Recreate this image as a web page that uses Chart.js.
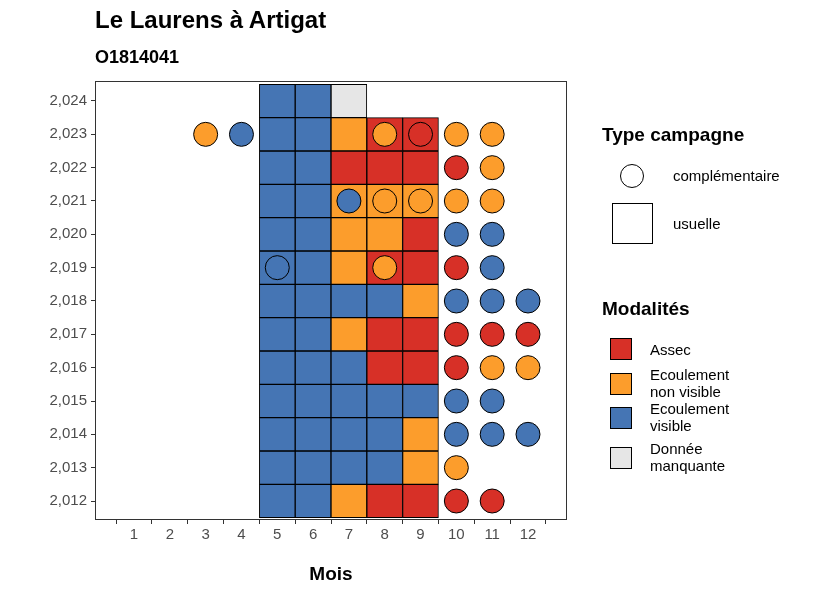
<!DOCTYPE html>
<html>
<head>
<meta charset="utf-8">
<script src="https://cdn.jsdelivr.net/npm/chart.js@4"></script>
<style>
  body { margin: 0; background: #fff; font-family: "Liberation Sans", Arial, sans-serif; }
  #wrap { position: relative; width: 826px; height: 590px; }
  .t { position: absolute; white-space: nowrap; color: #000; }
  .sq { position: absolute; border: 1px solid #000; box-sizing: border-box; }
  .lab { position: absolute; font-size: 15px; line-height: 17px; color: #000; }
</style>
</head>
<body>
<div id="wrap">
  <canvas id="chart" width="826" height="590"></canvas>
  <div class="t" style="left:95px;top:6px;font-size:24px;font-weight:bold;">Le Laurens à Artigat</div>
  <div class="t" style="left:95px;top:47px;font-size:18px;font-weight:bold;">O1814041</div>
  <div class="t" style="left:602px;top:124px;font-size:19px;font-weight:bold;">Type campagne</div>
  <div class="sq" style="left:620px;top:164px;width:24px;height:24px;border-radius:50%;"></div>
  <div class="lab" style="left:673px;top:167px;">complémentaire</div>
  <div class="sq" style="left:612px;top:203px;width:41px;height:41px;"></div>
  <div class="lab" style="left:673px;top:215px;">usuelle</div>
  <div class="t" style="left:602px;top:298px;font-size:19px;font-weight:bold;">Modalités</div>
  <div id="legmod"></div>
</div>
<script>
// valeurs
const years = [2012, 2013, 2014, 2015, 2016, 2017, 2018, 2019, 2020, 2021, 2022, 2023, 2024]
const months = [1, 2, 3, 4, 5, 6, 7, 8, 9, 10, 11, 12]
const modalites = ["Assec", "Ecoulement\nnon visible", "Ecoulement\nvisible", "Donnée\nmanquante"]
const colors = ["#d73027", "#fc9d2c", "#4575b4", "#e6e6e6"]
// campagnes usuelles (mois 5 a 9), codes: 0 assec, 1 non visible, 2 visible, 3 manquante
const usuelle = {
  2012: [2, 2, 1, 0, 0],
  2013: [2, 2, 2, 2, 1],
  2014: [2, 2, 2, 2, 1],
  2015: [2, 2, 2, 2, 2],
  2016: [2, 2, 2, 0, 0],
  2017: [2, 2, 1, 0, 0],
  2018: [2, 2, 2, 2, 1],
  2019: [2, 2, 1, 0, 0],
  2020: [2, 2, 1, 1, 0],
  2021: [2, 2, 1, 1, 1],
  2022: [2, 2, 0, 0, 0],
  2023: [2, 2, 1, 0, 0],
  2024: [2, 2, 3, null, null]
}
const usuelleMonths = [5, 6, 7, 8, 9]
// campagnes complementaires: [annee, mois, code]
const complementaire = [
  [2012, 10, 0], [2012, 11, 0],
  [2013, 10, 1],
  [2014, 10, 2], [2014, 11, 2], [2014, 12, 2],
  [2015, 10, 2], [2015, 11, 2],
  [2016, 10, 0], [2016, 11, 1], [2016, 12, 1],
  [2017, 10, 0], [2017, 11, 0], [2017, 12, 0],
  [2018, 10, 2], [2018, 11, 2], [2018, 12, 2],
  [2019, 5, 2], [2019, 8, 1], [2019, 10, 0], [2019, 11, 2],
  [2020, 10, 2], [2020, 11, 2],
  [2021, 7, 2], [2021, 8, 1], [2021, 9, 1], [2021, 10, 1], [2021, 11, 1],
  [2022, 10, 0], [2022, 11, 1],
  [2023, 3, 1], [2023, 4, 2], [2023, 8, 1], [2023, 9, 0], [2023, 10, 1], [2023, 11, 1]
]

// legend HTML
const leg = document.getElementById("legmod")
const legTops = [338, 373, 407, 447]
modalites.forEach((m, i) => {
  leg.innerHTML += `<div class="sq" style="left:610px;top:${legTops[i]}px;width:22px;height:22px;background:${colors[i]}"></div>` +
    `<div class="lab" style="left:650px;top:${legTops[i] + (m.includes("\n") ? -7 : 3)}px;">${m.replace("\n", "<br>")}</div>`
})

const datasets = []
colors.forEach((c, code) => {
  const data = []
  years.forEach(y => {
    usuelle[y].forEach((v, j) => {
      if (v === code) data.push({ x: usuelleMonths[j], y: [y - 0.5, y + 0.5] })
    })
  })
  datasets.push({
    type: "bar", data: data, backgroundColor: c, borderColor: "#000", borderWidth: 1,
    grouped: false, barPercentage: 1, categoryPercentage: 1, borderSkipped: false, order: 2
  })
})
datasets.push({
  type: "line", showLine: false, order: 1,
  data: complementaire.map(d => ({ x: d[1], y: d[0] })),
  pointRadius: 12, pointHoverRadius: 12, pointBorderColor: "#000", pointBorderWidth: 1,
  pointBackgroundColor: complementaire.map(d => colors[d[2]])
})

const frame = {
  id: "frame",
  afterDraw(chart) {
    const a = chart.chartArea, ctx = chart.ctx
    ctx.save()
    ctx.strokeStyle = "#333"
    ctx.lineWidth = 1
    ctx.strokeRect(a.left + 0.5, a.top + 0.5, a.right - a.left - 1, a.bottom - a.top - 1)
    ctx.restore()
  }
}

const tickFont = { family: "Liberation Sans", size: 15 }
new Chart(document.getElementById("chart"), {
  type: "bar",
  data: { datasets: datasets },
  plugins: [frame],
  options: {
    responsive: false,
    animation: false,
    layout: { padding: { top: 81, right: 259, left: 0, bottom: 0 } },
    plugins: { legend: { display: false }, tooltip: { enabled: false } },
    scales: {
      x: {
        type: "linear", min: 0.46, max: 12.54,
        afterBuildTicks: s => { s.ticks = months.map(v => ({ value: v })) },
        afterFit: s => { s.height = 70 },
        ticks: { color: "#4d4d4d", font: tickFont, padding: 2 },
        grid: { drawOnChartArea: false, tickLength: 4, color: "#333" },
        border: { display: false },
        title: { display: true, text: "Mois", color: "#000", font: { family: "Liberation Sans", size: 19, weight: "bold" }, padding: { top: 4 } }
      },
      y: {
        type: "linear", min: 2011.43, max: 2024.6,
        afterBuildTicks: s => { s.ticks = years.map(v => ({ value: v })) },
        afterFit: s => { s.width = 95 },
        ticks: { color: "#4d4d4d", font: tickFont, padding: 4 },
        grid: { drawOnChartArea: false, tickLength: 4, color: "#333" },
        border: { display: false }
      }
    }
  }
})
</script>
</body>
</html>
